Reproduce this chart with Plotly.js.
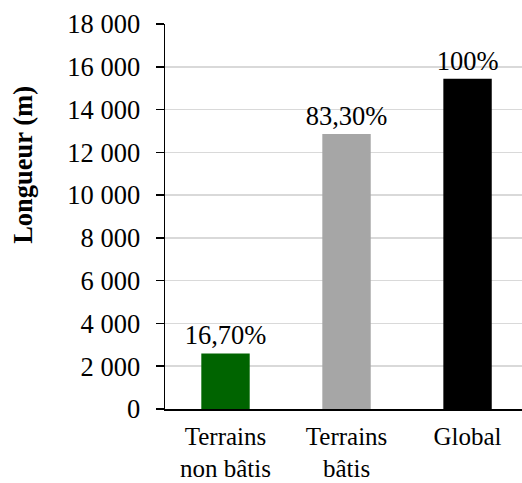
<!DOCTYPE html>
<html>
<head>
<meta charset="utf-8">
<script src="https://cdn.plot.ly/plotly-3.0.1.min.js"></script>
<style>html,body{margin:0;padding:0;background:#fff;}#chart{width:522px;height:483px;}</style>
</head>
<body>
<div id="chart"></div>
<script>
const categories = ["Terrains<br>non bâtis", "Terrains<br>bâtis", "Global"];
const lengths = [2600, 12860, 15440];
const shareLabels = ["16,70%", "83,30%", "100%"];
const barColors = ["#006400", "#a6a6a6", "#000000"];
const yTitle = "Longueur (m)";

const font = "Liberation Serif, Times New Roman, serif";
const fs = 26.5;

Plotly.newPlot("chart", [{
  type: "bar",
  x: categories,
  y: lengths,
  text: shareLabels,
  textposition: "outside",
  constraintext: "none",
  textfont: {family: font, size: fs, color: "#000"},
  cliponaxis: false,
  marker: {color: barColors},
  width: 0.4,
  hoverinfo: "none"
}], {
  width: 522, height: 483,
  margin: {l: 165, r: 0, t: 24, b: 74},
  paper_bgcolor: "#fff", plot_bgcolor: "#fff",
  separators: ", ",
  font: {family: font, size: fs, color: "#000"},
  showlegend: false,
  xaxis: {
    range: [-0.5, 2.45],
    showline: true, linecolor: "#000", linewidth: 1.5,
    ticks: "", showgrid: false,
    ticklabelstandoff: 4,
    tickfont: {family: font, size: 25, color: "#000"}
  },
  yaxis: {
    range: [0, 18000],
    dtick: 2000,
    tickformat: ",d",
    showline: true, linecolor: "#000", linewidth: 1.5,
    ticks: "outside", ticklen: 8, tickcolor: "#000", tickwidth: 1.5,
    ticklabelstandoff: 10,
    showgrid: true, gridcolor: "#d9d9d9", gridwidth: 1.5,
    zeroline: false,
    tickfont: {family: font, size: fs, color: "#000"}
  },
  annotations: [{
    text: "<b>" + yTitle + "</b>",
    xref: "paper", yref: "paper",
    x: -0.398, y: 0.634,
    xanchor: "center", yanchor: "middle",
    textangle: -90, showarrow: false,
    font: {family: font, size: fs, color: "#000"}
  }]
}, {displayModeBar: false, staticPlot: true});
</script>
</body>
</html>
